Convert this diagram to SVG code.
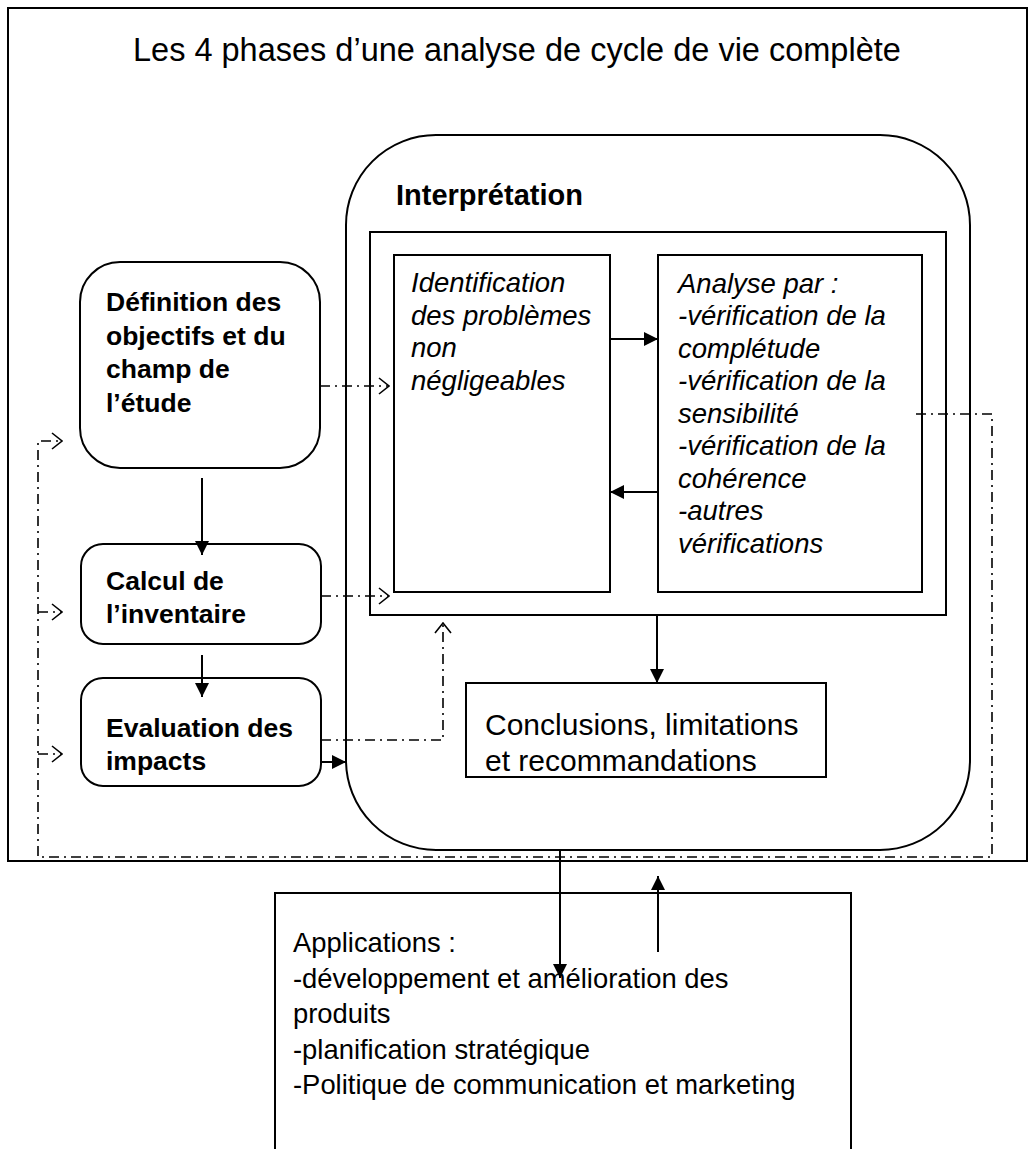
<svg xmlns="http://www.w3.org/2000/svg" width="1031" height="1149" viewBox="0 0 1031 1149">
<defs>
<marker id="fa" viewBox="0 0 14 14" refX="14" refY="7" markerWidth="14" markerHeight="14" markerUnits="userSpaceOnUse" orient="auto"><path d="M0,0 L14,7 L0,14 Z" fill="#000"/></marker>
<marker id="oa" viewBox="0 0 12 18" refX="11" refY="9" markerWidth="12" markerHeight="18" markerUnits="userSpaceOnUse" orient="auto"><path d="M1,1 L11,9 L1,17" fill="none" stroke="#000" stroke-width="1.6"/></marker>
</defs>
<style>
.b{fill:#fff;stroke:#000;stroke-width:2}
.t{font-family:"Liberation Sans",Arial,sans-serif;fill:#000}
.bd{font-weight:bold;font-size:26.5px}
.it{font-style:italic;font-size:27.5px}
.n{font-size:27.4px}
.s{fill:none;stroke:#000;stroke-width:2}
.d{fill:none;stroke:#000;stroke-width:1.6;stroke-dasharray:10,5,2,5}
</style>
<rect width="1031" height="1149" fill="#fff"/>
<g id="frame">
<rect x="8" y="8" width="1019" height="853" fill="none" stroke="#000" stroke-width="2"/>
<text class="t" x="133" y="61" font-size="32.5">Les 4 phases d’une analyse de cycle de vie complète</text>
</g>
<g id="interpretation">
<rect class="b" x="346" y="135" width="624" height="715" rx="90" ry="90"/>
<text class="t" x="396" y="205" font-size="29" font-weight="bold">Interprétation</text>
</g>
<g id="inner">
<rect class="b" x="370" y="232" width="576" height="383"/>
</g>
<g id="identification">
<rect class="b" x="394" y="255" width="216" height="337"/>
<text class="t it" x="411" y="292">Identification</text>
<text class="t it" x="411" y="325">des problèmes</text>
<text class="t it" x="411" y="357">non</text>
<text class="t it" x="411" y="390">négligeables</text>
</g>
<g id="analyse">
<rect class="b" x="658" y="255" width="264" height="337"/>
<text class="t it" x="678" y="293">Analyse par :</text>
<text class="t it" x="678" y="325">-vérification de la</text>
<text class="t it" x="678" y="358">complétude</text>
<text class="t it" x="678" y="390">-vérification de la</text>
<text class="t it" x="678" y="423">sensibilité</text>
<text class="t it" x="678" y="455">-vérification de la</text>
<text class="t it" x="678" y="488">cohérence</text>
<text class="t it" x="678" y="520">-autres</text>
<text class="t it" x="678" y="553">vérifications</text>
</g>
<g id="definition">
<rect class="b" x="80" y="262" width="240" height="206" rx="40" ry="40"/>
<text class="t bd" x="106" y="311">Définition des</text>
<text class="t bd" x="106" y="345">objectifs et du</text>
<text class="t bd" x="106" y="378">champ de</text>
<text class="t bd" x="106" y="412">l’étude</text>
</g>
<g id="calcul">
<rect class="b" x="81" y="544" width="240" height="100" rx="22" ry="22"/>
<text class="t bd" x="106" y="590">Calcul de</text>
<text class="t bd" x="106" y="623">l’inventaire</text>
</g>
<g id="evaluation">
<rect class="b" x="81" y="678" width="240" height="108" rx="22" ry="22"/>
<text class="t bd" x="106" y="737">Evaluation des</text>
<text class="t bd" x="106" y="770">impacts</text>
</g>
<g id="conclusions">
<rect class="b" x="466" y="683" width="360" height="94"/>
<text class="t" x="485" y="735" font-size="30">Conclusions, limitations</text>
<text class="t" x="485" y="771" font-size="30">et recommandations</text>
</g>
<g id="applications">
<rect class="b" x="275" y="893" width="576" height="270"/>
<text class="t n" x="293" y="952">Applications :</text>
<text class="t n" x="293" y="988">-développement et amélioration des</text>
<text class="t n" x="293" y="1023">produits</text>
<text class="t n" x="293" y="1059">-planification stratégique</text>
<text class="t n" x="293" y="1094">-Politique de communication et marketing</text>
</g>
<g id="connectors">
<line class="s" x1="202" y1="478" x2="202" y2="555" marker-end="url(#fa)"/>
<line class="s" x1="202" y1="655" x2="202" y2="697" marker-end="url(#fa)"/>
<line class="s" x1="321" y1="762" x2="346" y2="762" marker-end="url(#fa)"/>
<line class="s" x1="610" y1="339" x2="658" y2="339" marker-end="url(#fa)"/>
<line class="s" x1="658" y1="492" x2="610" y2="492" marker-end="url(#fa)"/>
<line class="s" x1="657" y1="615" x2="657" y2="683" marker-end="url(#fa)"/>
<line class="s" x1="560" y1="850" x2="560" y2="978" marker-end="url(#fa)"/>
<line class="s" x1="658" y1="952" x2="658" y2="876" marker-end="url(#fa)"/>
<polyline class="d" points="320,386 389,386" marker-end="url(#oa)"/>
<polyline class="d" points="321,596 389,596" marker-end="url(#oa)"/>
<polyline class="d" points="321,740 443,740 443,623" marker-end="url(#oa)"/>
<polyline class="d" points="916,414 992,414 992,857 38,857 38,441 62,441" marker-end="url(#oa)"/>
<polyline class="d" points="38,612 62,612" marker-end="url(#oa)"/>
<polyline class="d" points="38,754 62,754" marker-end="url(#oa)"/>
</g>
</svg>
